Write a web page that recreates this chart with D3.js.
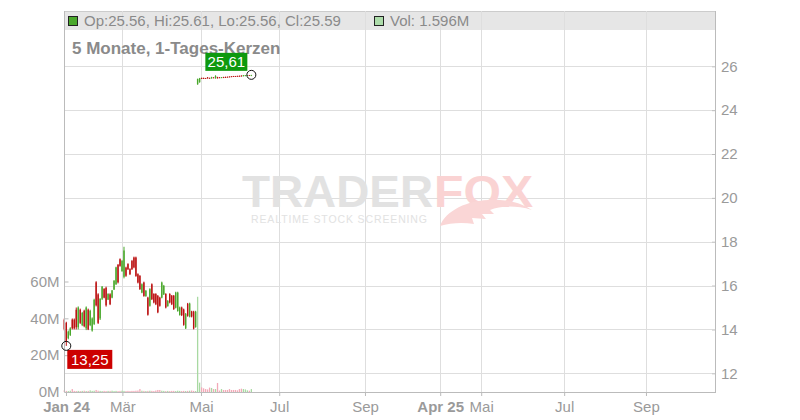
<!DOCTYPE html>
<html><head><meta charset="utf-8">
<script src="https://cdn.jsdelivr.net/npm/d3@7"></script>
<style>
body{margin:0;background:#fff}
svg{display:block;font-family:"Liberation Sans",Arial,Helvetica,sans-serif}
</style>
</head><body>
<svg id="chart" width="800" height="420"></svg>
<script>
// ---------- DATA ----------
// trading-day candles (index = position on the trading-day axis)
const opens = [
14.45,14.30,13.60,13.75,14.45,14.45,14.90,14.10,14.90,14.20,14.85,14.05,14.90,14.20,13.95,14.25,16.15,15.60,14.50,15.40,
15.85,15.90,15.36,15.60,15.45,15.82,16.06,16.95,17.20,16.66,16.40,16.82,16.98,16.75,17.12,17.28,17.28,16.52,16.44,15.68,
16.14,15.52,15.45,15.08,16.06,15.62,15.62,15.53,15.45,15.45,15.60,15.62,15.06,15.62,15.54,15.54,14.99,14.84,14.66,15.00,
14.91,14.05,15.17,14.58,14.82,14.81,14.11,
25.18,25.28,25.47,25.47,25.46,25.49,25.47,25.45,25.49,25.45,25.50,25.49,25.47,25.50,25.51,25.52,25.53,25.54,25.55,25.55,
25.56,25.56,25.57,25.55,25.56,25.57,25.60,25.56];
const highs = [
14.50,14.35,13.95,14.10,14.50,14.50,15.00,15.05,14.95,14.80,14.90,15.05,14.95,14.90,14.55,15.40,16.20,15.65,15.42,15.98,
15.88,15.95,15.65,15.65,15.80,16.25,16.86,16.98,17.24,17.17,17.77,16.86,17.02,16.79,17.17,17.32,17.32,16.56,16.48,16.10,
16.18,15.80,15.49,15.88,16.10,15.65,15.65,15.57,15.49,16.18,16.03,15.65,15.34,15.65,15.57,15.57,15.72,15.72,15.04,15.04,
14.95,14.75,15.21,15.22,14.85,14.85,14.85,
25.44,25.47,25.48,25.48,25.47,25.51,25.48,25.52,25.50,25.59,25.52,25.51,25.51,25.52,25.53,25.53,25.54,25.55,25.56,25.56,
25.57,25.58,25.59,25.60,25.60,25.60,25.60,25.61];
const lows = [
13.95,13.25,13.55,13.70,14.00,14.00,14.00,14.00,14.25,14.15,14.10,13.97,13.97,14.15,13.90,14.20,15.05,14.25,14.43,15.34,
15.42,15.04,15.34,15.11,15.42,15.80,16.03,16.10,16.86,16.63,16.33,16.40,16.71,16.48,16.71,16.79,16.40,16.10,15.80,15.65,
15.49,15.49,14.63,15.04,15.34,15.19,15.11,14.74,15.04,15.42,15.57,14.96,15.04,15.19,15.11,14.89,14.96,14.81,14.63,14.61,
14.17,14.02,14.58,14.55,14.55,14.00,14.08,
25.16,25.25,25.42,25.42,25.43,25.44,25.44,25.44,25.46,25.44,25.44,25.47,25.46,25.47,25.47,25.49,25.50,25.51,25.52,25.52,
25.53,25.54,25.54,25.54,25.55,25.56,25.57,25.56];
const closes = [
14.00,13.45,13.90,14.05,14.05,14.05,14.10,15.00,14.30,14.75,14.15,15.00,14.00,14.85,14.50,15.35,15.10,14.30,15.40,15.95,
15.45,15.10,15.62,15.15,15.78,16.22,16.83,16.15,16.90,17.12,17.60,16.45,16.75,16.52,16.75,16.83,16.44,16.14,15.84,16.06,
15.53,15.76,14.67,15.84,15.38,15.23,15.15,14.78,15.08,16.14,15.99,15.00,15.30,15.23,15.15,14.93,15.68,15.68,15.00,14.65,
14.21,14.71,14.62,15.18,14.59,14.04,14.81,
25.42,25.45,25.43,25.44,25.44,25.45,25.45,25.50,25.47,25.56,25.46,25.48,25.50,25.48,25.48,25.50,25.51,25.52,25.53,25.53,
25.54,25.55,25.55,25.59,25.59,25.59,25.58,25.59];
// volume in millions
const volumes = [
0.9,0.6,0.5,0.7,1.6,0.6,0.5,0.6,0.5,0.6,0.7,0.5,0.6,0.9,0.6,0.7,1.1,0.7,0.6,0.5,
0.6,0.5,0.6,0.6,0.7,0.5,0.6,0.5,0.6,0.7,0.6,0.5,0.6,0.5,0.6,0.6,0.7,0.8,1.6,0.7,
0.6,0.5,0.6,0.7,0.6,0.5,0.8,1.1,1.1,0.7,0.6,0.5,0.6,0.5,0.6,0.6,0.5,0.7,0.6,0.5,
0.6,0.5,0.6,0.7,0.8,0.6,0.5,
51.7,5.1,2.5,2.0,1.6,1.4,2.4,2.2,1.6,1.6,4.9,0.8,1.6,1.1,1.1,1.1,1.6,1.1,1.1,1.1,
0.9,1.6,1.8,1.6,1.4,0.9,0.7,1.596];

const xTickPos    = [0.85, 29.2, 68.7, 108, 151.1, 188.9, 209.5, 251.2, 292.3];
const xTickLabels = ["Jan 24","Mär","Mai","Jul","Sep","Apr 25","Mai","Jul","Sep"];
const xTickBold   = ["Jan 24","Apr 25"];
const priceTicks  = [12,14,16,18,20,22,24,26];
const volTicks    = [0,20,40,60];
const titleText   = "5 Monate, 1-Tages-Kerzen";
const headerText  = "Op:25.56, Hi:25.61, Lo:25.56, Cl:25.59";
const volText     = "Vol: 1.596M";

// ---------- LAYOUT ----------
const L = 64.5, R = 716, T = 11, B = 392;
const svg = d3.select("#chart");
const x = d3.scaleLinear().domain([-0.15, 327.5]).range([64, 716]);
const yP = d3.scaleLinear().domain([12, 26]).range([373.3, 66.3]);
const yV = d3.scaleLinear().domain([0, 60]).range([392, 281.5]);

const cUp = "#4aa82c", cDn = "#bb1111", vUp = "#a8d9a2", vDn = "#f2a9b7";
const grid = "#dedede", axisC = "#bbbbbb", txt = "#9a9a9a";

// header band
svg.append("rect").attr("x", L).attr("y", T).attr("width", R - L).attr("height", 19).attr("fill", "#e6e6e6");
svg.append("line").attr("x1", L).attr("x2", R).attr("y1", T + 0.5).attr("y2", T + 0.5).attr("stroke", "#cccccc");

// grid
svg.append("g").selectAll("line").data(xTickPos.slice(1)).join("line")
  .attr("x1", d => Math.round(x(d)) + 0.5).attr("x2", d => Math.round(x(d)) + 0.5)
  .attr("y1", T).attr("y2", B).attr("stroke", grid);
svg.append("g").selectAll("line").data(priceTicks).join("line")
  .attr("x1", L).attr("x2", R - 4)
  .attr("y1", d => Math.round(yP(d)) + 0.5).attr("y2", d => Math.round(yP(d)) + 0.5).attr("stroke", grid);

// watermark
const wm = svg.append("g");
wm.append("text").attr("x", 242).attr("y", 207).attr("font-size", 44).attr("font-weight", "bold")
  .attr("fill", "#e2e2e2").attr("textLength", 191).attr("lengthAdjust", "spacingAndGlyphs").text("TRADER");
wm.append("text").attr("x", 434).attr("y", 207).attr("font-size", 44).attr("font-weight", "bold")
  .attr("fill", "#fad3d3").attr("textLength", 99).attr("lengthAdjust", "spacingAndGlyphs").text("FOX");
wm.append("path").attr("fill", "#fad6d6")
  .attr("d", "M440 226 C446 210,470 198,500 200 C515 201,525 205,532 210 C515 205,500 206,490 210 L494 214 L482 214 L486 219 L472 218 L474 224 C462 222,450 223,440 226 Z");
wm.append("text").attr("x", 251).attr("y", 223).attr("font-size", 10.5)
  .attr("fill", "#e2e2e2").attr("textLength", 176).attr("lengthAdjust", "spacing").text("REALTIME STOCK SCREENING");

// volume bars
const idx = d3.range(opens.length);
const up = i => closes[i] >= opens[i];
svg.append("g").selectAll("rect").data(idx).join("rect")
  .attr("x", i => x(i) - 0.65).attr("width", 1.3)
  .attr("y", i => yV(volumes[i])).attr("height", i => yV(0) - yV(volumes[i]))
  .attr("fill", i => up(i) ? vUp : vDn);

// candles
const cg = svg.append("g");
cg.selectAll("line").data(idx).join("line")
  .attr("x1", i => x(i)).attr("x2", i => x(i))
  .attr("y1", i => yP(highs[i])).attr("y2", i => yP(lows[i]))
  .attr("stroke", i => up(i) ? cUp : cDn).attr("stroke-width", 1);
cg.selectAll("rect").data(idx).join("rect")
  .attr("x", i => x(i) - 0.7).attr("width", 1.4)
  .attr("y", i => yP(Math.max(opens[i], closes[i])))
  .attr("height", i => Math.max(0.8, Math.abs(yP(opens[i]) - yP(closes[i]))))
  .attr("fill", i => up(i) ? cUp : cDn);

// axes
const fmtAxis = g => { g.select(".domain").remove(); g.selectAll(".tick line").attr("stroke", axisC);
  g.selectAll("text").attr("fill", txt).attr("font-size", 15).attr("font-family", "Liberation Sans, Arial, sans-serif"); };

svg.append("g").attr("transform", `translate(${R},0)`)
  .call(d3.axisRight(yP).tickValues(priceTicks).tickSize(-4).tickPadding(5)).call(fmtAxis);
svg.append("g").attr("transform", `translate(${L},0)`)
  .call(d3.axisLeft(yV).tickValues(volTicks).tickSize(-4).tickPadding(5).tickFormat(d => d + "M")).call(fmtAxis);
const xa = svg.append("g").attr("transform", `translate(0,${B})`)
  .call(d3.axisBottom(x).tickValues(xTickPos).tickSize(4).tickPadding(5).tickFormat((d, i) => xTickLabels[i])).call(fmtAxis);
xa.selectAll("text").attr("font-weight", (d, i) => xTickBold.includes(xTickLabels[i]) ? "bold" : "normal");

svg.append("line").attr("x1", L).attr("x2", L).attr("y1", T).attr("y2", B).attr("stroke", axisC);
svg.append("line").attr("x1", R - 0.5).attr("x2", R - 0.5).attr("y1", T).attr("y2", B).attr("stroke", axisC);
svg.append("line").attr("x1", L).attr("x2", R).attr("y1", B + 0.5).attr("y2", B + 0.5).attr("stroke", axisC);

// header legend
svg.append("rect").attr("x", 68.5).attr("y", 16.5).attr("width", 9).attr("height", 9)
  .attr("fill", "#4aa82c").attr("stroke", "#222");
svg.append("text").attr("x", 84).attr("y", 26).attr("font-size", 15).attr("fill", "#8a8a8a").text(headerText);
svg.append("rect").attr("x", 374.5).attr("y", 16.5).attr("width", 9).attr("height", 9)
  .attr("fill", "#addcaa").attr("stroke", "#222");
svg.append("text").attr("x", 390).attr("y", 26).attr("font-size", 15).attr("fill", "#8a8a8a").text(volText);

// title
svg.append("text").attr("x", 72).attr("y", 54).attr("font-size", 17).attr("font-weight", "bold")
  .attr("fill", "#8a8a8a").text(titleText);

// high / low markers
const fmtDe = v => v.toFixed(2).replace(".", ",");
const iHi = d3.maxIndex(highs), iLo = d3.minIndex(lows);
const hx = x(iHi), hy = yP(highs[iHi]);
const lx = x(iLo), ly = yP(lows[iLo]);

svg.append("rect").attr("x", hx - 46).attr("y", hy - 22).attr("width", 42).attr("height", 18).attr("fill", "#0e990e");
svg.append("text").attr("x", hx - 25).attr("y", hy - 8).attr("text-anchor", "middle").attr("font-size", 15)
  .attr("fill", "#fff").text(fmtDe(highs[iHi]));
svg.append("circle").attr("cx", hx).attr("cy", hy).attr("r", 4.5).attr("fill", "none").attr("stroke", "#111");

svg.append("rect").attr("x", lx + 1).attr("y", ly + 4).attr("width", 45).attr("height", 19).attr("fill", "#cc0000");
svg.append("text").attr("x", lx + 23.5).attr("y", ly + 19).attr("text-anchor", "middle").attr("font-size", 15)
  .attr("fill", "#fff").text(fmtDe(lows[iLo]));
svg.append("circle").attr("cx", lx).attr("cy", ly).attr("r", 4.5).attr("fill", "none").attr("stroke", "#111");
</script>
</body></html>
